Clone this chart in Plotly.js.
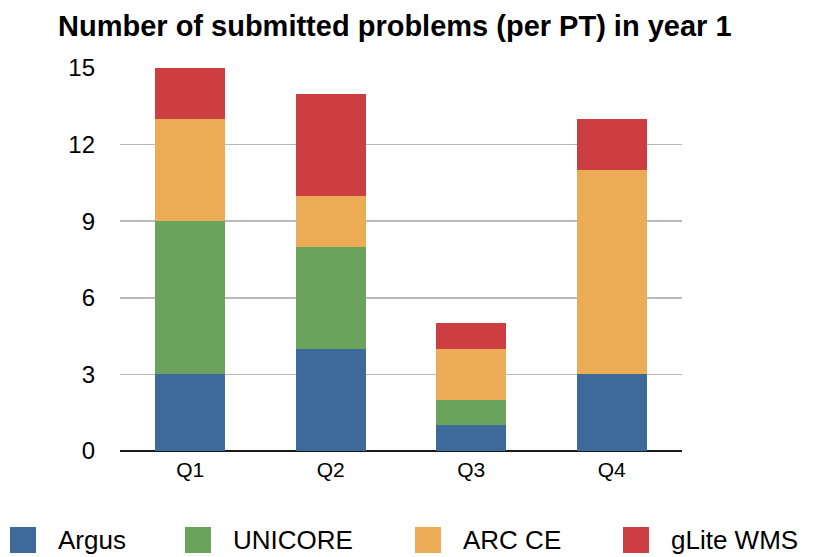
<!DOCTYPE html>
<html>
<head>
<meta charset="utf-8">
<script src="https://cdn.plot.ly/plotly-3.0.1.min.js"></script>
<style>html,body{margin:0;padding:0;background:#fff;}#chart{width:813px;height:557px;}</style>
</head>
<body>
<div id="chart"></div>
<script>
const categories = ["Q1", "Q2", "Q3", "Q4"];
const seriesNames = ["Argus", "UNICORE", "ARC CE", "gLite WMS"];
const argus = [3, 4, 1, 3];
const unicore = [6, 4, 1, 0];
const arcCE = [4, 2, 2, 8];
const gliteWMS = [2, 4, 1, 2];
const yTicks = [0, 3, 6, 9, 12, 15];
const colors = ["#3e6a9b", "#6ba35d", "#ecac56", "#cc3e41"];

const values = [argus, unicore, arcCE, gliteWMS];
const FONT = "Liberation Sans, Arial, Helvetica, sans-serif";

const traces = values.map((v, i) => ({
  type: "bar",
  x: categories,
  y: v,
  name: seriesNames[i],
  marker: { color: colors[i], line: { width: 0 } },
  showlegend: false,
  hoverinfo: "x+y+name"
}));

// manual legend (large square swatches)
const legendX = [10, 185, 415, 623];
const shapes = [];
const annotations = [];
seriesNames.forEach((n, i) => {
  shapes.push({
    type: "rect", xref: "paper", yref: "paper",
    x0: (legendX[i] - 120) / 562, x1: (legendX[i] + 26 - 120) / 562,
    y0: -(527 - 451) / 383 - 26 / 383, y1: -(527 - 451) / 383,
    fillcolor: colors[i], line: { width: 0 }
  });
  annotations.push({
    xref: "paper", yref: "paper",
    x: (legendX[i] + 46 - 120) / 562, y: -(540 - 451) / 383,
    xanchor: "left", yanchor: "middle", showarrow: false,
    text: n, font: { family: FONT, size: 26, color: "#000" }
  });
});

const layout = {
  width: 813, height: 557,
  margin: { l: 120, r: 131, t: 68, b: 106 },
  paper_bgcolor: "#fff", plot_bgcolor: "#fff",
  barmode: "stack",
  bargap: 0.5,
  title: {
    text: "<b>Number of submitted problems (per PT) in year 1</b>",
    x: 58 / 813, xanchor: "left", xref: "container",
    y: 1 - 26 / 557, yanchor: "middle", yref: "container",
    font: { family: FONT, size: 29, color: "#000" }
  },
  xaxis: {
    type: "category",
    tickfont: { family: FONT, size: 21, color: "#000" },
    showgrid: false, showline: false, ticks: "",
    zeroline: false,
    ticklabelstandoff: 4
  },
  yaxis: {
    range: [0, 15],
    tickvals: yTicks,
    ticktext: yTicks.map(String),
    tickfont: { family: FONT, size: 24, color: "#000" },
    showgrid: true, gridcolor: "#b9b9b9", gridwidth: 1.5,
    zeroline: true, zerolinecolor: "#1a1a1a", zerolinewidth: 2.5,
    showline: false, ticks: "",
    ticklabelstandoff: 24
  },
  shapes: shapes,
  annotations: annotations,
  showlegend: false,
  font: { family: FONT, color: "#000" }
};

Plotly.newPlot("chart", traces, layout, { displayModeBar: false, staticPlot: true });
</script>
</body>
</html>
